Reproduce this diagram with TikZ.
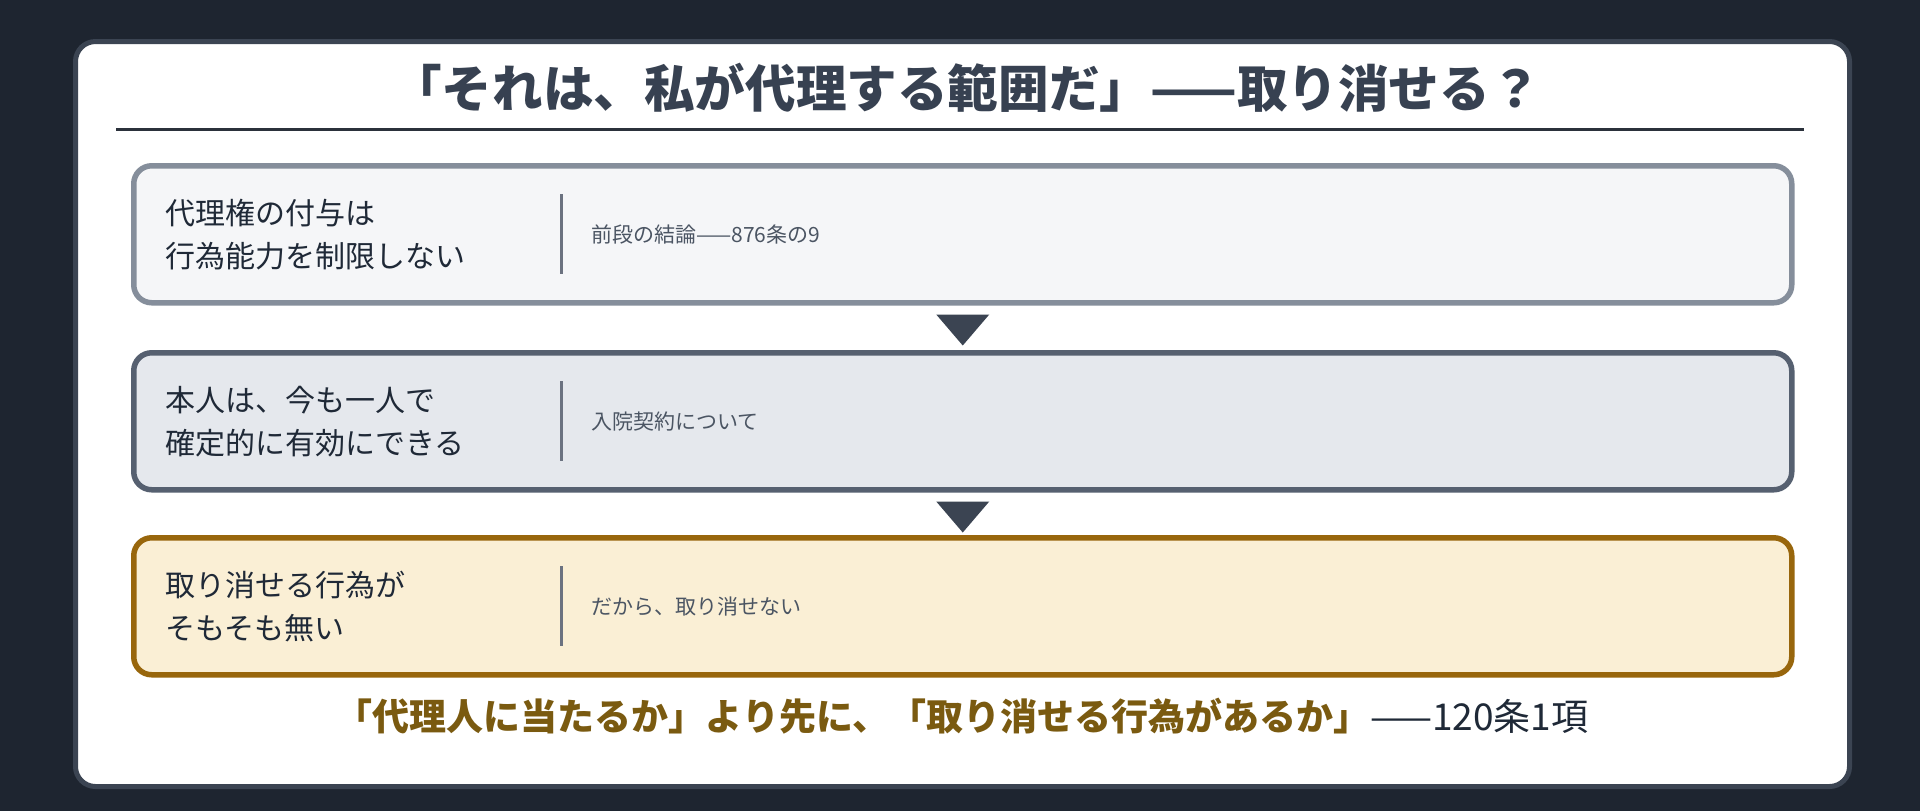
\documentclass[tikz,border=0pt]{standalone}
\usepackage{fontspec}
\setmainfont{Noto Sans CJK JP}
\usetikzlibrary{calc}
\definecolor{bgdark}{HTML}{1E2530}
\definecolor{cardedge}{HTML}{3B4452}
\definecolor{titlec}{HTML}{374151}
\definecolor{rulec}{HTML}{2B313B}
\definecolor{edgeA}{HTML}{858E9B}
\definecolor{fillA}{HTML}{F5F6F8}
\definecolor{edgeB}{HTML}{566070}
\definecolor{fillB}{HTML}{E5E8ED}
\definecolor{edgeC}{HTML}{98660C}
\definecolor{fillC}{HTML}{FAEFD5}
\definecolor{divc}{HTML}{6B7280}
\definecolor{textdark}{HTML}{1F2937}
\definecolor{textsub}{HTML}{4B5563}
\definecolor{accent}{HTML}{7A5A10}
\begin{document}
\begin{tikzpicture}[x=0.5pt,y=-0.5pt,
  card/.style={draw=cardedge, fill=white, line width=2.5pt, rounded corners=10pt,
    minimum width=887pt, minimum height=372.5pt, inner sep=0pt, anchor=north west},
  stepbox/.style={line width=2.75pt, rounded corners=9pt, minimum width=829pt,
    minimum height=68.5pt, inner sep=0pt, anchor=north west},
  lefttext/.style={anchor=west, align=left, inner sep=0pt, text=textdark,
    font=\fontsize{15}{21.5}\selectfont},
  subtext/.style={anchor=west, inner sep=0pt, text=textsub, font=\fontsize{10.5}{12}\selectfont},
  divline/.style={draw=divc, line width=1.5pt},
  flowtri/.style={fill=cardedge}]
\fill[bgdark] (0,0) rectangle (1920,811);
\useasboundingbox (0,0) rectangle (1920,811);
\node[card] (card) at (73,39) {};
\node[text=titlec, font=\bfseries\fontsize{25.3}{29}\selectfont, inner sep=0pt] (title) at (966,88)
  {「それは、私が代理する範囲だ」——取り消せる？};
\draw[draw=rulec, line width=1.5pt] (116,129) coordinate (r1) -- (1804,129) coordinate (r2);
% boxes
\node[stepbox, draw=edgeA, fill=fillA] (b1) at (131,163) {};
\node[stepbox, draw=edgeB, fill=fillB] (b2) at (131,350) {};
\node[stepbox, draw=edgeC, fill=fillC] (b3) at (131,535) {};
% texts
\node[lefttext] (t1) at ($(b1.west)+(34,0)$) {代理権の付与は\\行為能力を制限しない};
\node[lefttext] (t2) at ($(b2.west)+(34,0)$) {本人は、今も一人で\\確定的に有効にできる};
\node[lefttext] (t3) at ($(b3.west)+(34,0)$) {取り消せる行為が\\そもそも無い};
\draw[divline] ($(b1.west)+(430,-40)$) -- ($(b1.west)+(430,40)$);
\draw[divline] ($(b2.west)+(430,-40)$) -- ($(b2.west)+(430,40)$);
\draw[divline] ($(b3.west)+(430,-40)$) -- ($(b3.west)+(430,40)$);
\node[subtext] (s1) at ($(b1.west)+(460,0)$) {前段の結論——876条の9};
\node[subtext] (s2) at ($(b2.west)+(460,0)$) {入院契約について};
\node[subtext] (s3) at ($(b3.west)+(460,0)$) {だから、取り消せない};
% arrows
\fill[flowtri] ($(b1.south)+(-26.5,9)$) -- ($(b1.south)+(26.5,9)$) -- ($(b1.south)+(0,40)$) -- cycle;
\fill[flowtri] ($(b2.south)+(-26.5,9)$) -- ($(b2.south)+(26.5,9)$) -- ($(b2.south)+(0,40)$) -- cycle;
% bottom line
\node[inner sep=0pt, font=\fontsize{18.5}{22}\selectfont] (concl) at (962,716)
  {{\bfseries\color{accent}「代理人に当たるか」より先に、「取り消せる行為があるか」}{\color{textdark}——120条1項}};
\end{tikzpicture}
\end{document}
